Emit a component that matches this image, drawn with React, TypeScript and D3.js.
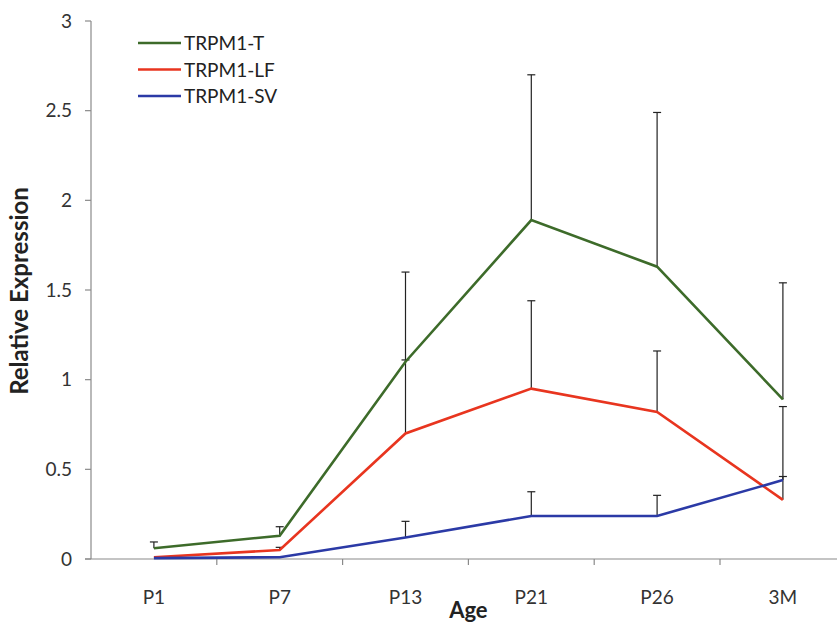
import React from "react";
import * as d3 from "d3";

// categories and values
const ages = ["P1", "P7", "P13", "P21", "P26", "3M"];
const seriesNames = ["TRPM1-T", "TRPM1-LF", "TRPM1-SV"];
const trpmT = [0.06, 0.13, 1.1, 1.89, 1.63, 0.89];
const trpmTErr = [0.035, 0.05, 0.5, 0.81, 0.86, 0.65];
const trpmLF = [0.01, 0.05, 0.7, 0.95, 0.82, 0.33];
const trpmLFErr = [0, 0.015, 0.41, 0.49, 0.34, 0.52];
const trpmSV = [0.005, 0.01, 0.12, 0.24, 0.24, 0.44];
const trpmSVErr = [0, 0, 0.09, 0.135, 0.115, 0.02];
const yTicks = [0, 0.5, 1, 1.5, 2, 2.5, 3];

const colors = ["#3d6b2a", "#e8351f", "#2b3aa6"];
const font = "Lato, 'Open Sans', sans-serif";

const W = 837;
const H = 625;
const left = 91;
const top = 21;
const bottom = 559;
const band = 125.8;

const App = () => {
  const x = d3
    .scaleBand()
    .domain(ages)
    .range([left, left + band * ages.length]);
  const y = d3.scaleLinear().domain([0, 3]).range([bottom, top]);

  const series = [
    { name: seriesNames[0], values: trpmT, errs: trpmTErr },
    { name: seriesNames[1], values: trpmLF, errs: trpmLFErr },
    { name: seriesNames[2], values: trpmSV, errs: trpmSVErr },
  ];

  const cx = (a) => x(a) + x.bandwidth() / 2;
  const line = d3
    .line()
    .x((d) => cx(d[0]))
    .y((d) => y(d[1]));

  const axisColor = "#8a8a8a";
  const plotMid = (x.range()[0] + x.range()[1]) / 2;

  return (
    <svg
      width={W}
      height={H}
      style={{ position: "absolute", left: 0, top: 0, background: "#fff" }}
    >
      {/* y axis */}
      <line x1={left} x2={left} y1={top} y2={bottom} stroke={axisColor} strokeWidth={1.2} />
      {yTicks.map((t) => (
        <g key={t}>
          <line x1={left - 6} x2={left} y1={y(t)} y2={y(t)} stroke={axisColor} strokeWidth={1.2} />
          <text
            x={left - 19}
            y={y(t) + 6.5}
            textAnchor="end"
            fontFamily={font}
            fontSize={19}
            fill="#333"
          >
            {t}
          </text>
        </g>
      ))}

      {/* x axis */}
      <line x1={left - 6} x2={W} y1={bottom} y2={bottom} stroke={axisColor} strokeWidth={1.2} />
      {ages.map((a, i) => (
        <g key={a}>
          {i > 0 && (
            <line x1={x(a)} x2={x(a)} y1={bottom} y2={bottom + 6} stroke={axisColor} strokeWidth={1.2} />
          )}
          <text
            x={cx(a)}
            y={bottom + 45}
            textAnchor="middle"
            fontFamily={font}
            fontSize={19}
            fill="#333"
          >
            {a}
          </text>
        </g>
      ))}

      {/* error bars (upper only) */}
      {series.map((s) =>
        s.values.map((v, i) =>
          s.errs[i] > 0 ? (
            <g key={s.name + i} stroke="#222" strokeWidth={1.2}>
              <line x1={cx(ages[i])} x2={cx(ages[i])} y1={y(v)} y2={y(v + s.errs[i])} />
              <line
                x1={cx(ages[i]) - 4}
                x2={cx(ages[i]) + 4}
                y1={y(v + s.errs[i])}
                y2={y(v + s.errs[i])}
              />
            </g>
          ) : null
        )
      )}

      {/* lines */}
      {series.map((s, k) => (
        <path
          key={s.name}
          d={line(s.values.map((v, i) => [ages[i], v]))}
          fill="none"
          stroke={colors[k]}
          strokeWidth={2.6}
        />
      ))}

      {/* legend */}
      {series.map((s, k) => (
        <g key={s.name} transform={`translate(138, ${43 + k * 26.5})`}>
          <line x1={0} x2={43} y1={0} y2={0} stroke={colors[k]} strokeWidth={2.6} />
          <text x={46} y={7} fontFamily={font} fontSize={19} fill="#222">
            {s.name}
          </text>
        </g>
      ))}

      {/* axis titles */}
      <text
        transform={`translate(28, ${(top + bottom) / 2 + 1}) rotate(-90)`}
        textAnchor="middle"
        fontFamily={font}
        fontSize={24}
        fontWeight="bold"
        fill="#222"
      >
        Relative Expression
      </text>
      <text
        x={plotMid}
        y={618}
        textAnchor="middle"
        fontFamily={font}
        fontSize={22}
        fontWeight="bold"
        fill="#222"
      >
        Age
      </text>
    </svg>
  );
};

export default App;
